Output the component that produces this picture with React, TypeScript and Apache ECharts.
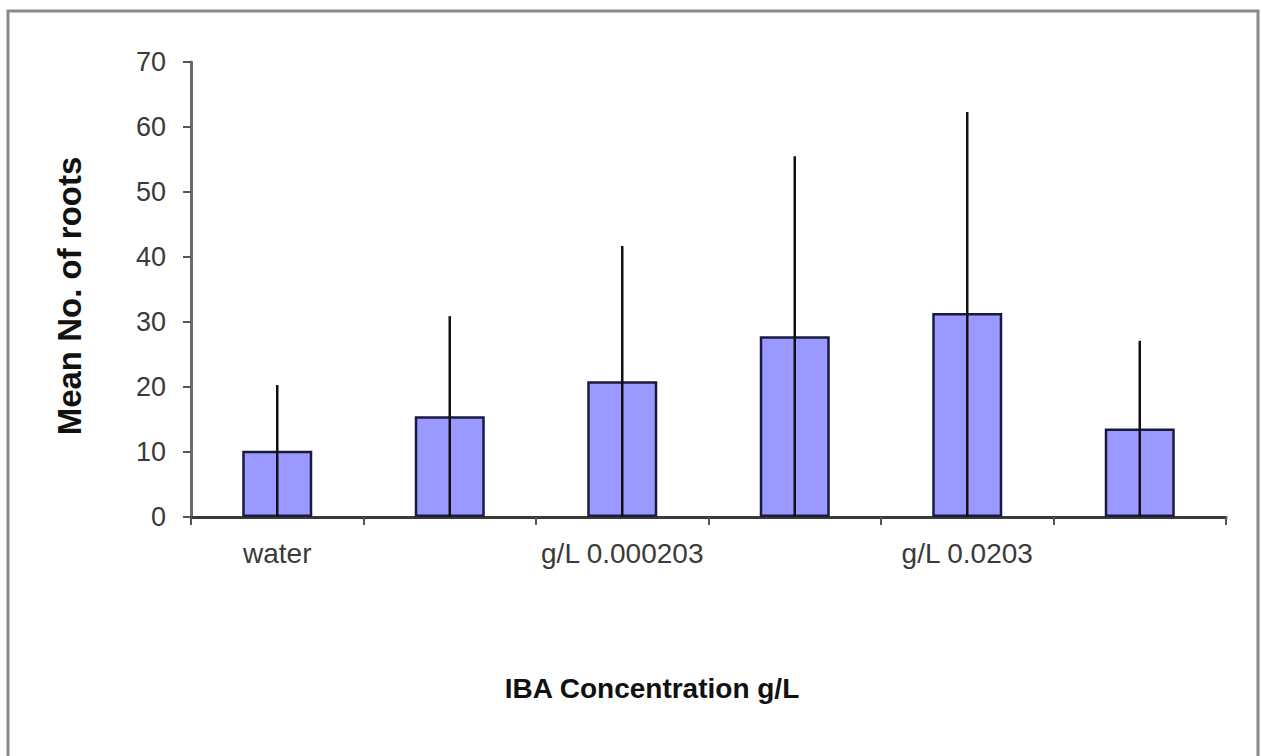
import React, { useEffect, useRef } from "react";
import * as echarts from "echarts";

const categories = ["water", "g/L 0.0000203", "g/L 0.000203", "g/L 0.00203", "g/L 0.0203", "g/L 0.203"];
const meanRoots = [10.2, 15.5, 20.9, 27.8, 31.4, 13.6];
const upperError = [20.3, 30.9, 41.7, 55.5, 62.3, 27.1];
const yTitle = "Mean No. of roots";
const xTitle = "IBA Concentration g/L";

export default function App() {
  const ref = useRef<HTMLDivElement>(null);
  useEffect(() => {
    if (!ref.current) return;
    const chart = echarts.init(ref.current, null, { renderer: "svg" });
    const font = "'Liberation Sans', Arial, sans-serif";
    chart.setOption({
      animation: false,
      backgroundColor: "#ffffff",
      grid: { left: 191, right: 36, top: 62, bottom: 239 },
      xAxis: {
        type: "category",
        data: categories,
        axisLine: { show: true, lineStyle: { color: "#3a3a3a", width: 3 } },
        axisTick: { show: true, interval: 0, length: 8, inside: false, lineStyle: { color: "#555", width: 2 } },
        axisLabel: { interval: 1, margin: 22, fontSize: 28, color: "#3a3a3a", fontFamily: font },
        splitLine: { show: false },
      },
      yAxis: {
        type: "value",
        min: 0,
        max: 70,
        interval: 10,
        axisLine: { show: true, lineStyle: { color: "#6a6a6a", width: 3 } },
        axisTick: { show: true, length: 8, lineStyle: { color: "#555", width: 2 } },
        axisLabel: { margin: 25, fontSize: 27, color: "#3a3a3a", fontFamily: font },
        splitLine: { show: false },
      },
      series: [
        {
          type: "bar",
          data: meanRoots,
          barWidth: 70,
          itemStyle: { color: "#9999ff", borderColor: "#1a1a40", borderWidth: 2.5 },
          z: 2,
        },
        {
          type: "custom",
          data: upperError.map((v, i) => [i, v]),
          z: 3,
          renderItem: (params: any, api: any) => {
            const idx = api.value(0);
            const top = api.coord([idx, api.value(1)]);
            const bottom = api.coord([idx, 0]);
            return {
              type: "line",
              shape: { x1: top[0], y1: top[1], x2: bottom[0], y2: bottom[1] },
              style: { stroke: "#111111", lineWidth: 2.5 },
            };
          },
        },
      ],
      graphic: [
        {
          type: "rect",
          shape: { x: 8, y: 11, width: 1250, height: 800 },
          style: { fill: "none", stroke: "#8a8a8a", lineWidth: 3 },
          silent: true,
          z: -1,
        },
        {
          type: "text",
          x: 69,
          y: 296,
          rotation: Math.PI / 2,
          style: {
            text: yTitle,
            fontSize: 33,
            fontWeight: "bold",
            fontFamily: font,
            fill: "#111111",
            align: "center",
            verticalAlign: "middle",
          },
        },
        {
          type: "text",
          x: 652,
          y: 688,
          style: {
            text: xTitle,
            fontSize: 28,
            fontWeight: "bold",
            fontFamily: font,
            fill: "#111111",
            align: "center",
            verticalAlign: "middle",
          },
        },
      ],
    });
    return () => chart.dispose();
  }, []);
  return <div ref={ref} style={{ position: "fixed", left: 0, top: 0, width: 1262, height: 756 }} />;
}
